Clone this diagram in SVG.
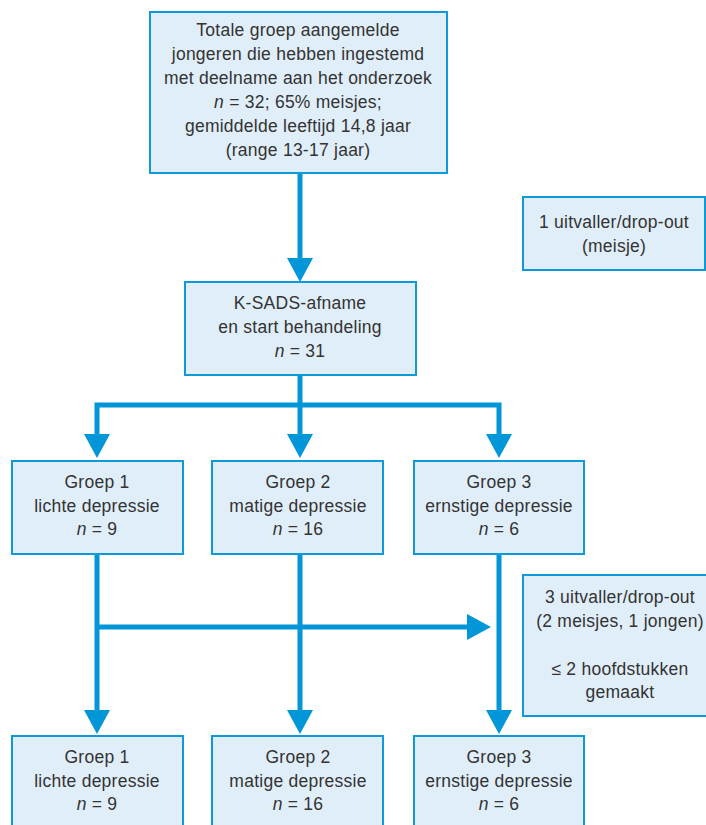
<svg xmlns="http://www.w3.org/2000/svg" width="706" height="825" viewBox="0 0 706 825">
<style>
.box{fill:#e0eefa;stroke:#0e9ad8;stroke-width:2}
.t{font-family:"Liberation Sans",Arial,sans-serif;font-size:17.5px;letter-spacing:0.25px;fill:#333;text-anchor:middle}
.c{fill:none;stroke:#0096d8;stroke-width:5;stroke-linejoin:miter}
</style>
<defs>
<marker id="ah" markerUnits="userSpaceOnUse" viewBox="0 0 24 26" refX="1" refY="13" markerWidth="24" markerHeight="26" orient="auto">
<path d="M0,0 L24,13 L0,26 z" fill="#0096d8"/>
</marker>
</defs>
<rect width="706" height="825" fill="#fff"/>
<g id="connectors">
<path class="c" d="M300,173 L300,259" marker-end="url(#ah)"/>
<path class="c" d="M300,375 L300,435" marker-end="url(#ah)"/>
<path class="c" d="M300,405 L97,405 L97,435" marker-end="url(#ah)"/>
<path class="c" d="M300,405 L499,405 L499,435" marker-end="url(#ah)"/>
<path class="c" d="M97,554 L97,711" marker-end="url(#ah)"/>
<path class="c" d="M97,627 L468,627" marker-end="url(#ah)"/>
<path class="c" d="M300,554 L300,711" marker-end="url(#ah)"/>
<path class="c" d="M499,554 L499,711" marker-end="url(#ah)"/>
</g>
<g id="n-total">
<rect class="box" x="150" y="12" width="297" height="161"/>
<text class="t" x="298" y="36">Totale groep aangemelde</text>
<text class="t" x="298" y="60">jongeren die hebben ingestemd</text>
<text class="t" x="298" y="84">met deelname aan het onderzoek</text>
<text class="t" x="298" y="108"><tspan font-style="italic">n</tspan> = 32; 65% meisjes;</text>
<text class="t" x="298" y="132">gemiddelde leeftijd 14,8 jaar</text>
<text class="t" x="298" y="156">(range 13-17 jaar)</text>
</g>
<g id="n-dropout1">
<rect class="box" x="523" y="197" width="182" height="73"/>
<text class="t" x="614" y="228">1 uitvaller/drop-out</text>
<text class="t" x="614" y="252">(meisje)</text>
</g>
<g id="n-ksads">
<rect class="box" x="185" y="282" width="231" height="93"/>
<text class="t" x="300" y="309">K-SADS-afname</text>
<text class="t" x="300" y="333">en start behandeling</text>
<text class="t" x="300" y="357"><tspan font-style="italic">n</tspan> = 31</text>
</g>
<g id="n-g1a">
<rect class="box" x="12" y="461" width="171" height="93"/>
<text class="t" x="97" y="488">Groep 1</text>
<text class="t" x="97" y="512">lichte depressie</text>
<text class="t" x="97" y="535"><tspan font-style="italic">n</tspan> = 9</text>
</g>
<g id="n-g2a">
<rect class="box" x="212" y="461" width="171" height="93"/>
<text class="t" x="298" y="488">Groep 2</text>
<text class="t" x="298" y="512">matige depressie</text>
<text class="t" x="298" y="535"><tspan font-style="italic">n</tspan> = 16</text>
</g>
<g id="n-g3a">
<rect class="box" x="414" y="461" width="170" height="93"/>
<text class="t" x="499" y="488">Groep 3</text>
<text class="t" x="499" y="512">ernstige depressie</text>
<text class="t" x="499" y="535"><tspan font-style="italic">n</tspan> = 6</text>
</g>
<g id="n-dropout2">
<rect class="box" x="523" y="575" width="195" height="141"/>
<text class="t" x="620" y="603">3 uitvaller/drop-out</text>
<text class="t" x="620" y="627">(2 meisjes, 1 jongen)</text>
<text class="t" x="620" y="675">≤ 2 hoofdstukken</text>
<text class="t" x="620" y="698">gemaakt</text>
</g>
<g id="n-g1b">
<rect class="box" x="12" y="736" width="171" height="100"/>
<text class="t" x="97" y="763">Groep 1</text>
<text class="t" x="97" y="787">lichte depressie</text>
<text class="t" x="97" y="810"><tspan font-style="italic">n</tspan> = 9</text>
</g>
<g id="n-g2b">
<rect class="box" x="212" y="736" width="171" height="100"/>
<text class="t" x="298" y="763">Groep 2</text>
<text class="t" x="298" y="787">matige depressie</text>
<text class="t" x="298" y="810"><tspan font-style="italic">n</tspan> = 16</text>
</g>
<g id="n-g3b">
<rect class="box" x="414" y="736" width="170" height="100"/>
<text class="t" x="499" y="763">Groep 3</text>
<text class="t" x="499" y="787">ernstige depressie</text>
<text class="t" x="499" y="810"><tspan font-style="italic">n</tspan> = 6</text>
</g>
</svg>
